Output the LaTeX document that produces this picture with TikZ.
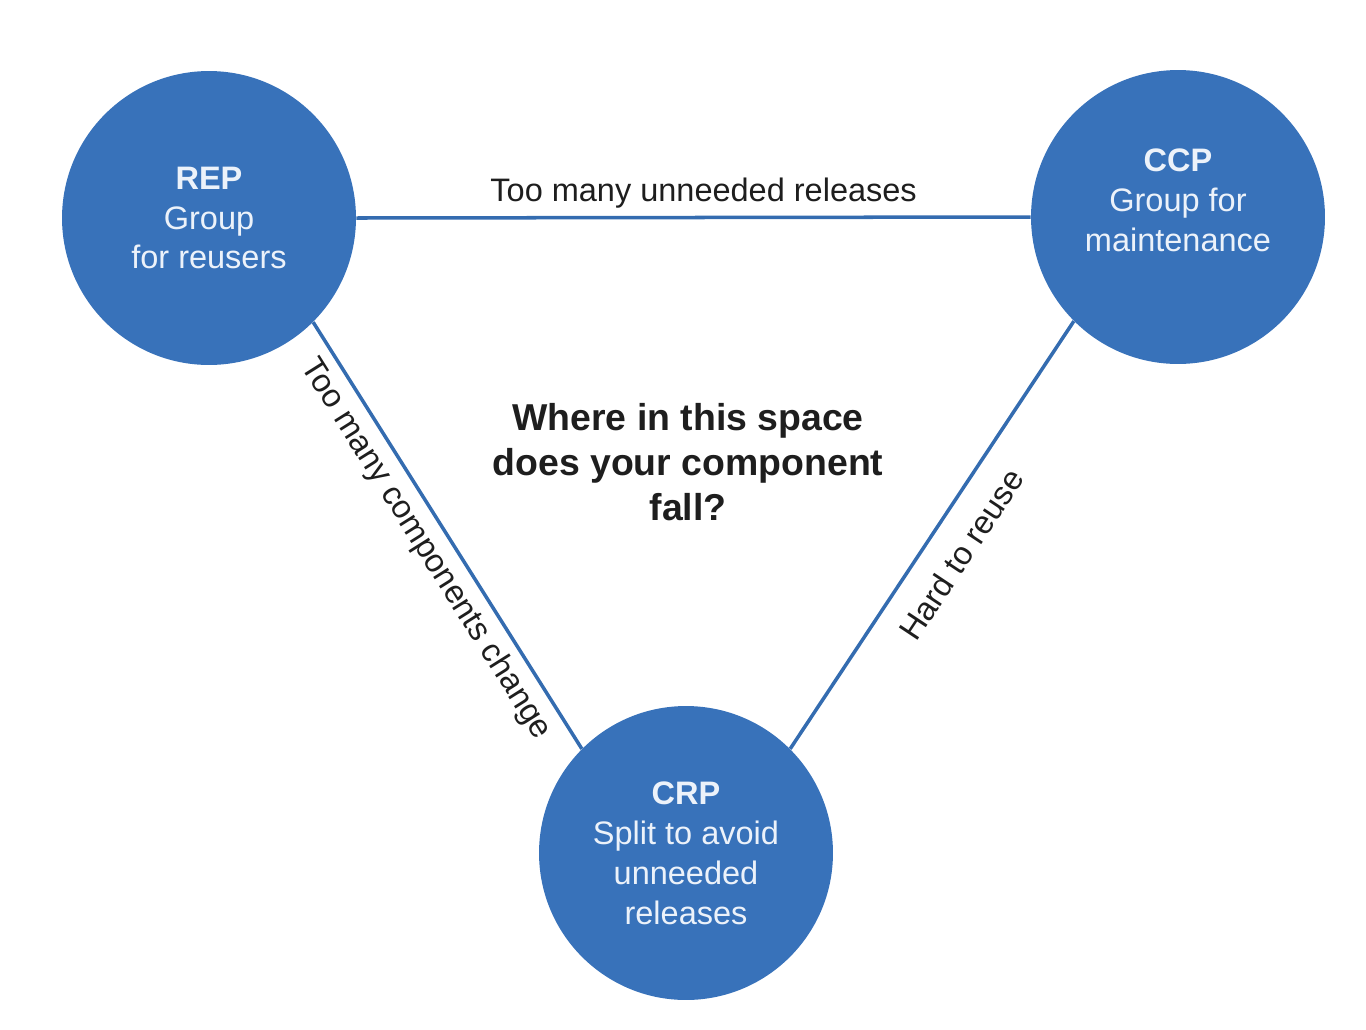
\documentclass[tikz,border=0pt]{standalone}
\usepackage{fontspec}
\setmainfont{Liberation Sans}
\definecolor{nodeblue}{RGB}{56,114,186}
\definecolor{lineblue}{RGB}{52,108,176}
\definecolor{nodetext}{RGB}{236,242,250}
\definecolor{labelgray}{RGB}{30,30,30}
\begin{document}
\begin{tikzpicture}[x=0.02cm,y=-0.02cm,
  circ/.style={circle,fill=nodeblue,minimum size=5.88cm,inner sep=0pt},
  circtext/.style={text=nodetext,align=center,font=\fontsize{18.5}{22.7}\selectfont},
  conn/.style={draw=lineblue,line width=2pt},
  lbl/.style={text=labelgray,font=\fontsize{18.5}{22}\selectfont,inner sep=4pt}]
\useasboundingbox (0,0) rectangle (1366,1029);
\node[circ] (REP) at (209,218) {};
\node[circ] (CCP) at (1178,217) {};
\node[circ] (CRP) at (686,853) {};
\node[circtext] (REPt) at (REP) {\textbf{REP}\\Group\\for reusers};
\node[circtext] (CCPt) at ([yshift=0.34cm]CCP.center) {\textbf{CCP}\\Group for\\maintenance};
\node[circtext] (CRPt) at (CRP) {\textbf{CRP}\\Split to avoid\\unneeded\\releases};
\draw[conn] (REP.east) -- node[lbl,above,pos=0.515]{Too many unneeded releases} (CCP.west);
\draw[conn] (REP.south east) -- node[lbl,below=1pt,sloped,pos=0.5]{Too many components change} (CRP.north west);
\draw[conn] (CRP.north east) -- node[lbl,below=8pt,sloped,pos=0.5]{Hard to reuse} (CCP.south west);
\node[font=\bfseries\fontsize{21.3}{25.5}\selectfont,align=center,text=labelgray] (Q) at (688,462) {Where in this space\\does your component\\fall?};
\end{tikzpicture}
\end{document}
